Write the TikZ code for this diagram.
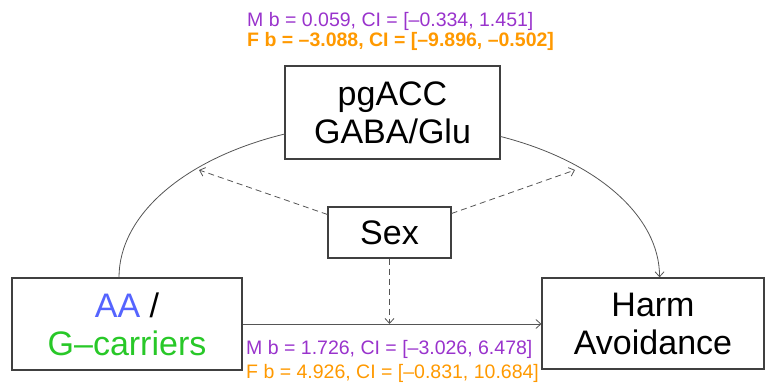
\documentclass[tikz,border=0pt]{standalone}
\usepackage{fontspec}
\setmainfont{Liberation Sans}
\usetikzlibrary{arrows.meta,calc}
\definecolor{mpurple}{RGB}{153,51,204}
\definecolor{forange}{RGB}{255,153,0}
\definecolor{aablue}{RGB}{85,100,255}
\definecolor{ggreen}{RGB}{40,200,40}
\definecolor{boxgray}{RGB}{64,64,64}
\definecolor{linegray}{RGB}{85,85,85}
\begin{document}
\begin{tikzpicture}[x=1pt,y=-1pt,
  varbox/.style={draw=boxgray,line width=1.1pt,inner sep=0pt,align=center,
    font=\fontsize{34}{38}\selectfont},
  conn/.style={draw=linegray,line width=0.8pt},
  tip/.style={-{Straight Barb[length=5pt,width=9pt]}},
  dashconn/.style={conn,dashed,dash pattern=on 6pt off 4pt},
  lab/.style={anchor=base west,inner sep=0pt,font=\fontsize{19.5}{22}\selectfont}]
\useasboundingbox (0,0) rectangle (765,385);
% boxes
\node[varbox,minimum width=215pt,minimum height=93pt] (pg) at (392.5,112.5) {pgACC\\GABA/Glu};
\node[varbox,minimum width=123pt,minimum height=51pt] (sex) at (389.5,232.5) {Sex};
\node[varbox,minimum width=230pt,minimum height=92pt] (aa) at (127,324) {\textcolor{aablue}{AA} /\\\textcolor{ggreen}{G--carriers}};
\node[varbox,minimum width=222pt,minimum height=91pt] (ha) at (653,323.5) {Harm\\Avoidance};
% points on the curves
\coordinate (cl) at (199,170);
\coordinate (cr) at (575,170);
% connectors (elliptical arcs)
\draw[conn] ([xshift=-8pt]aa.north) arc[start angle=180,end angle=247,x radius=273,y radius=156];
\draw[conn,tip] ([yshift=-24pt]pg.east) arc[start angle=-66.14,end angle=0,x radius=267,y radius=154];
\draw[conn,tip] (aa.east) -- (aa.east -| ha.west);
\draw[dashconn,tip] ([yshift=18pt]sex.west) -- (cl);
\draw[dashconn,tip] ([yshift=19pt]sex.east) -- (cr);
\coordinate (hit) at (sex.south |- aa.east);
\draw[dashconn,tip] (sex.south) -- (hit);
% labels
\node[lab,text=mpurple] (tm) at (247,27) {M b = 0.059, CI = [--0.334, 1.451]};
\node[lab,text=forange,font=\fontsize{19.5}{22}\selectfont\bfseries] (tf) at (247,47) {F b = --3.088, CI = [--9.896, --0.502]};
\node[lab,text=mpurple] (bm) at (246,354) {M b = 1.726, CI = [--3.026, 6.478]};
\node[lab,text=forange] (bf) at (246,378) {F b = 4.926, CI = [--0.831, 10.684]};
\end{tikzpicture}
\end{document}
